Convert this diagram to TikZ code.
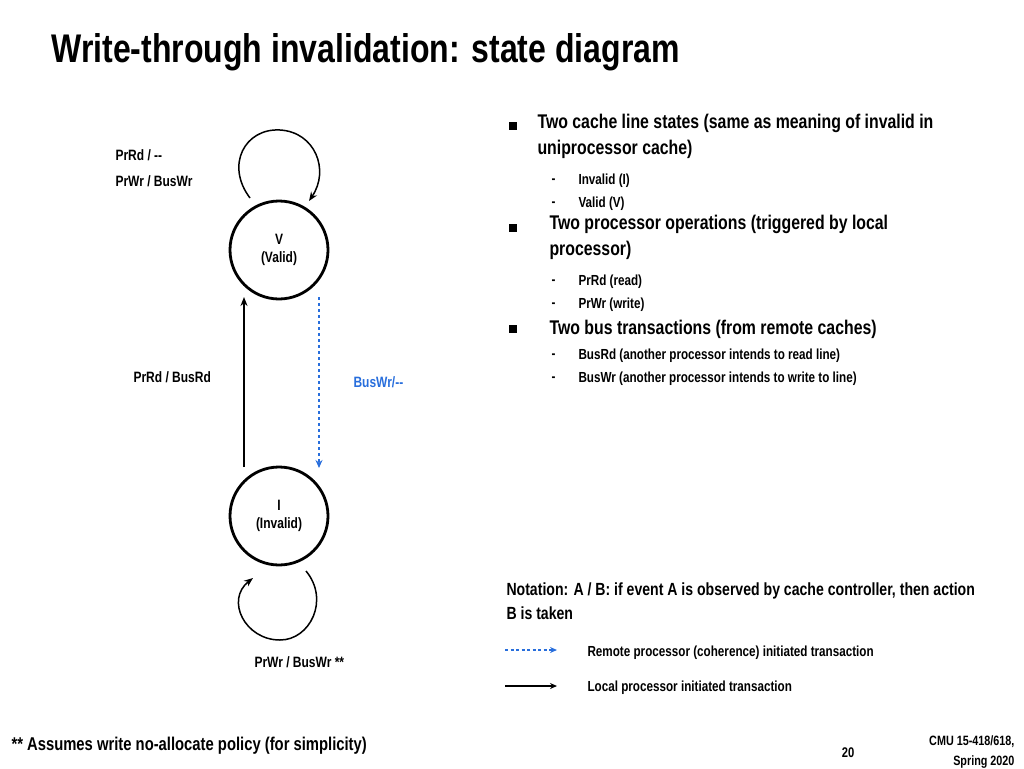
\documentclass[tikz,border=0pt]{standalone}
\usepackage{fontspec}
\setmainfont{Liberation Sans}[FakeStretch=0.8,BoldFont={* Bold},BoldFeatures={FakeStretch=0.8}]
\usetikzlibrary{arrows.meta}
\begin{document}
\begin{tikzpicture}[x=1pt,y=-1pt,font=\bfseries,
  st/.style={circle,draw,line width=2.8pt,minimum size=98pt,align=center,font=\bfseries\fontsize{15}{18}\selectfont},
  lab/.style={anchor=west,font=\bfseries\fontsize{15}{18}\selectfont},
  bul/.style={anchor=west,font=\bfseries\fontsize{19.8}{26}\selectfont,align=left},
  sub/.style={anchor=west,font=\bfseries\fontsize{14.6}{17}\selectfont},
  arr/.style={-{Stealth[length=9pt,width=7pt]},line width=1.5pt}]
\useasboundingbox (0,0) rectangle (1024,768);
\node[anchor=west,font=\bfseries\fontsize{40}{42}\selectfont] (title) at (48,52) {Write-through invalidation: state diagram};
\node[st] (V) at (279,250) {V\\(Valid)};
\node[st] (I) at (279,516) {I\\(Invalid)};
\coordinate (vl) at (250,198); \coordinate (vr) at (309,201);
\draw[arr] (vl) .. controls (225,165) and (245,128) .. (280,130) .. controls (315,132) and (330,170) .. (vr);
\coordinate (il) at (253,578); \coordinate (ir) at (306,571);
\draw[arr] (ir) .. controls (330,600) and (310,640) .. (280,640) .. controls (245,640) and (225,600) .. (il);
\coordinate (a1) at (244,467); \coordinate (a2) at (244,297);
\draw[arr] (a1) -- (a2);
\coordinate (b1) at (319,297); \coordinate (b2) at (319,468);
\draw[-{Stealth[length=8pt,width=7pt]},line width=1.6pt,dash pattern=on 3pt off 3pt,color={rgb,255:red,40;green,110;blue,220}] (b1) -- (b2);
\node[lab] (l1) at (112,155) {PrRd / {-}{-}};
\node[lab] (l2) at (112,181) {PrWr / BusWr};
\node[lab] (l3) at (130,377) {PrRd / BusRd};
\node[lab,text={rgb,255:red,40;green,110;blue,220}] (l4) at (350,382) {BusWr/{-}{-}};
\node[lab] (l5) at (251,662) {PrWr / BusWr **};
\foreach \y in {126,228,329} \fill (509,\y-4) rectangle +(8,8);
\node[bul,anchor=north west] (t1) at (534,111) {Two cache line states (same as meaning of invalid in\\uniprocessor cache)};
\node[sub] at (548,181) {-}; \node[sub] at (575,181) {Invalid (I)};
\node[sub] at (548,204) {-}; \node[sub] at (575,204) {Valid (V)};
\node[bul,anchor=north west] (t2) at (546,212) {Two processor operations (triggered by local\\processor)};
\node[sub] at (548,282) {-}; \node[sub] at (575,282) {PrRd (read)};
\node[sub] at (548,305) {-}; \node[sub] at (575,305) {PrWr (write)};
\node[bul] (t3) at (546,329) {Two bus transactions (from remote caches)};
\node[sub] at (548,356) {-}; \node[sub] at (575,356) {BusRd (another processor intends to read line)};
\node[sub] at (548,379) {-}; \node[sub] at (575,379) {BusWr (another processor intends to write to line)};
\node[anchor=north west,align=left,font=\bfseries\fontsize{17.6}{24}\selectfont] (n) at (503,579) {Notation: A / B: if event A is observed by cache controller, then action\\B is taken};
\coordinate (d1) at (505,650); \coordinate (d2) at (557,650);
\draw[-{Stealth[length=7pt,width=6pt]},line width=1.5pt,dash pattern=on 3pt off 2.5pt,color={rgb,255:red,40;green,110;blue,220}] (d1) -- (d2);
\coordinate (e1) at (505,686); \coordinate (e2) at (557,686);
\draw[-{Stealth[length=7pt,width=6pt]},line width=1.5pt] (e1) -- (e2);
\node[sub] at (584,653) {Remote processor (coherence) initiated transaction};
\node[sub] at (584,688) {Local processor initiated transaction};
\node[anchor=west,font=\bfseries\fontsize{18.5}{20}\selectfont] at (8,746) {** Assumes write no-allocate policy (for simplicity)};
\node[font=\bfseries\fontsize{14}{15}\selectfont] at (848,753) {20};
\node[anchor=north east,align=right,font=\bfseries\fontsize{13.5}{20}\selectfont] at (1018,732) {CMU 15-418/618,\\Spring 2020};
\end{tikzpicture}
\end{document}
